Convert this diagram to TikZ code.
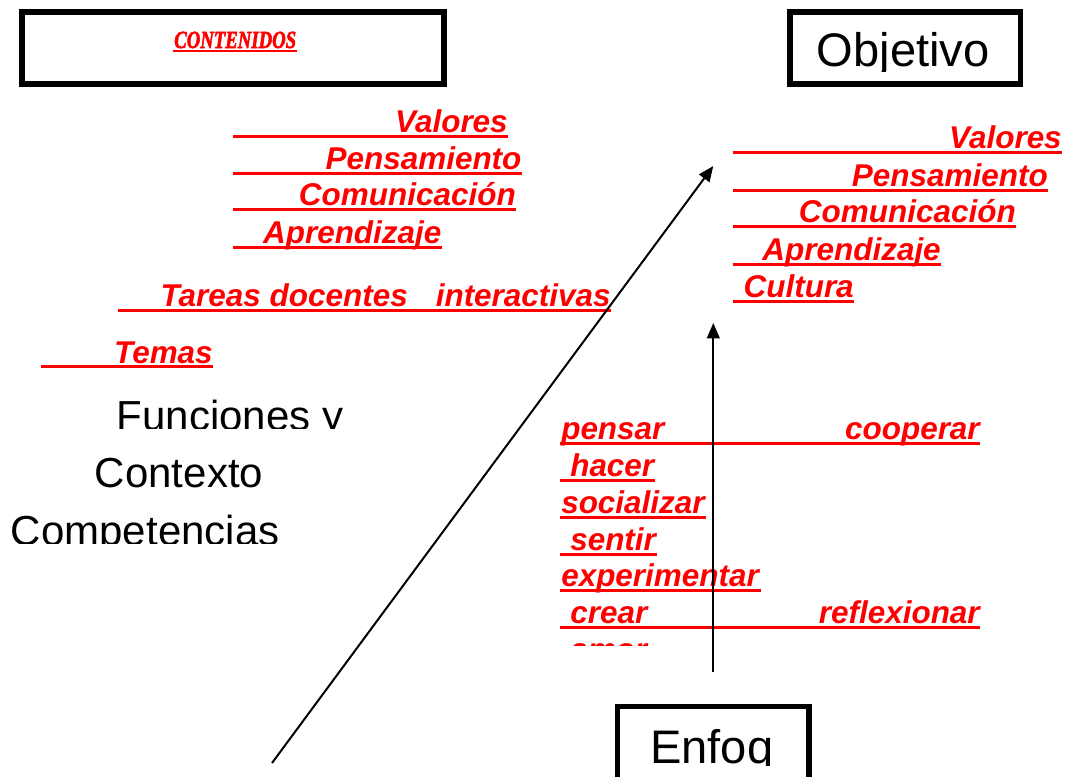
\documentclass[tikz,border=0pt]{standalone}
\usepackage{fontspec}
\setmainfont{Liberation Sans}
\newfontface\heavyserif{Liberation Serif Bold Italic}[FakeBold=2.5]
\usetikzlibrary{arrows.meta}
\definecolor{pured}{RGB}{255,0,0}
\begin{document}
\begin{tikzpicture}[x=0.75pt,y=-0.75pt,
  redtxt/.style={inner sep=0pt, text=pured, font=\fontsize{23.6}{28}\selectfont\bfseries\itshape},
  ul/.style={draw=pured, line width=2.25pt},
  blk/.style={inner sep=0pt, font=\fontsize{31.5}{36}\selectfont},
  bigtxt/.style={inner sep=0pt, font=\fontsize{35.3}{40}\selectfont},
  frame/.style={draw, line width=4.1pt, inner sep=0pt},
  arr/.style={line width=1.5pt, -{Triangle[length=11.5pt,width=9.5pt]}}
]
\useasboundingbox (0,0) rectangle (1074,776);
\clip (0,0) rectangle (1074,776);

% boxes
\node[frame, minimum width=316.5pt, minimum height=54pt] (cbox) at (233,48) {};
\node[frame, minimum width=172.9pt, minimum height=54pt] (obox) at (905.25,48) {};
\node[frame, minimum width=143.8pt, minimum height=70.1pt] (ebox) at (713.35,753.25) {};

% CONTENIDOS
\node[inner sep=0pt, anchor=base west, text=pured,
      font=\heavyserif\fontsize{18.5}{20}\selectfont] (ctit) at (174,48)
      {\scalebox{0.76}[1]{CONTENIDOS}};
\draw[draw=pured, line width=1.6pt] (173,51) -- (297,51);

% Objetivo (clipped at baseline)
\begin{scope}
\clip (780,20) rectangle (1015,71);
\node[bigtxt, anchor=base west] (obj) at (816.7,66.5) {Objetivo};
\end{scope}

% Enfoq (clipped)
\begin{scope}
\clip (625,715) rectangle (802,765);
\node[bigtxt, anchor=base west] (enf) at (650,763.5) {Enfoq};
\end{scope}

% left red group
\node[redtxt, anchor=base east] (lv) at (508,132.5) {Valores};
\node[redtxt, anchor=base east] (lp) at (521.7,169.5) {Pensamiento};
\node[redtxt, anchor=base east] (lc) at (516,205.5) {Comunicación};
\node[redtxt, anchor=base east] (la) at (441.7,243) {Aprendizaje};
\node[redtxt, anchor=base east] (lt) at (611,306) {Tareas docentes\hspace{21pt}interactivas};
\node[redtxt, anchor=base east] (lm) at (213,363) {Temas};
\draw[ul] (233.3,136) -- (508,136);
\draw[ul] (233.3,173.3) -- (521.7,173.3);
\draw[ul] (233.3,209.3) -- (516,209.3);
\draw[ul] (233.3,247) -- (441.7,247);
\draw[ul] (118.3,310) -- (611,310);
\draw[ul] (41,366.7) -- (213,366.7);

% right red group
\node[redtxt, anchor=base east] (rv) at (1062,148.5) {Valores};
\node[redtxt, anchor=base east] (rp) at (1048,186) {Pensamiento};
\node[redtxt, anchor=base east] (rc) at (1016,222.7) {Comunicación};
\node[redtxt, anchor=base east] (ra) at (941,260) {Aprendizaje};
\node[redtxt, anchor=base east] (rk) at (854,297) {Cultura};
\draw[ul] (733.3,152.7) -- (1062,152.7);
\draw[ul] (733.3,190) -- (1048,190);
\draw[ul] (733.3,226.7) -- (1016,226.7);
\draw[ul] (733.3,264) -- (941,264);
\draw[ul] (733.3,301) -- (854,301);

% bottom red group
\node[redtxt, anchor=base west] (b1) at (561,439.3) {pensar};
\node[redtxt, anchor=base east] (b1r) at (980,439.3) {cooperar};
\node[redtxt, anchor=base west] (b2) at (570,476.7) {hacer};
\node[redtxt, anchor=base west] (b3) at (561,513.3) {socializar};
\node[redtxt, anchor=base west] (b4) at (570,550) {sentir};
\node[redtxt, anchor=base west] (b5) at (561,586.7) {experimentar};
\node[redtxt, anchor=base west] (b6) at (570,623.7) {crear};
\node[redtxt, anchor=base east] (b6r) at (980,623.7) {reflexionar};
\begin{scope}
\clip (550,630) rectangle (700,645);
\node[redtxt, anchor=base west] (b7) at (570,660.5) {amor};
\end{scope}
\draw[ul] (560,443.3) -- (980,443.3);
\draw[ul] (560,480.7) -- (655,480.7);
\draw[ul] (560,517.3) -- (705.7,517.3);
\draw[ul] (560,554) -- (656.7,554);
\draw[ul] (560,590.7) -- (760.7,590.7);
\draw[ul] (560,627.7) -- (980,627.7);

% black left texts (clipped at baseline)
\begin{scope}
\clip (100,390) rectangle (360,428.5);
\node[blk, anchor=base west] (fy) at (116.6,430) {Funciones y};
\end{scope}
\begin{scope}
\clip (80,445) rectangle (300,487);
\node[blk, anchor=base west] (ctx) at (94.7,487) {Contexto};
\end{scope}
\begin{scope}
\clip (0,505) rectangle (300,543);
\node[blk, anchor=base west] (cmp) at (10.7,545) {Competencias};
\end{scope}

% arrows
\coordinate (d1) at (272,763);
\coordinate (d2) at (713.3,166);
\draw[arr] (d1) -- (d2);
\coordinate (v1) at (713.3,672);
\coordinate (v2) at (713.3,323);
\draw[arr] (v1) -- (v2);
\end{tikzpicture}
\end{document}
